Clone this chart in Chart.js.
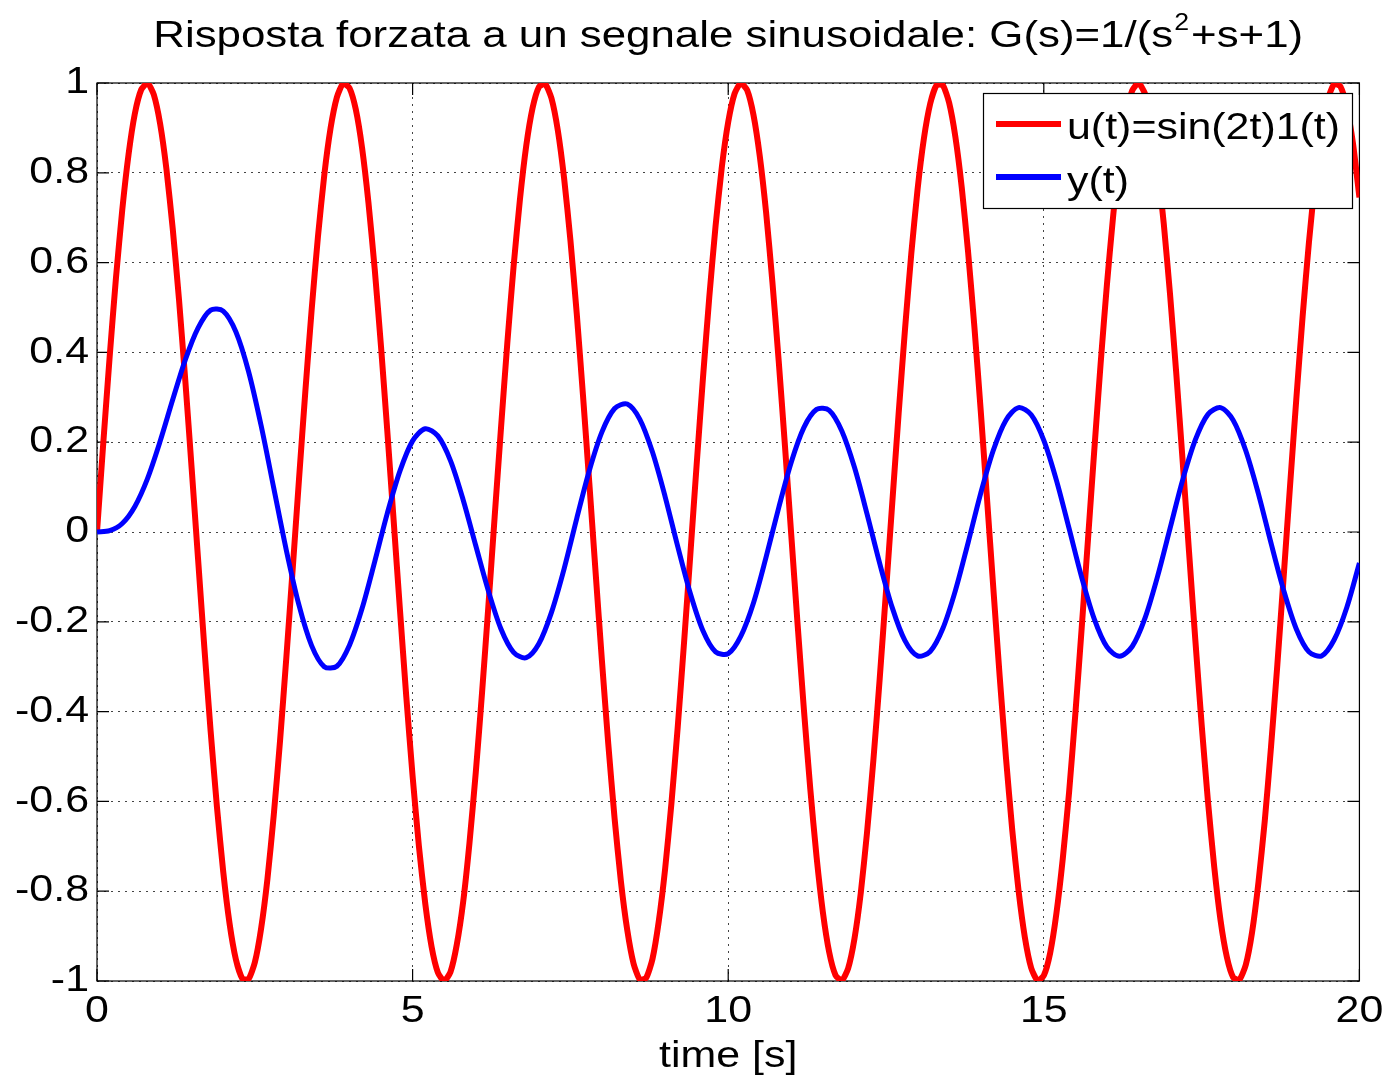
<!DOCTYPE html>
<html><head><meta charset="utf-8">
<script src="https://cdn.jsdelivr.net/npm/chart.js@4"></script>
<style>html,body{margin:0;padding:0;background:#fff;}canvas{display:block}</style>
</head><body>
<canvas id="c" width="1389" height="1081"></canvas>
<script>
const titleMain = 'Risposta forzata a un segnale sinusoidale: G(s)=1/(s';
const titleSup = '2';
const titleEnd = '+s+1)';
const xAxisTitle = 'time [s]';
const seriesLabels = ['u(t)=sin(2t)1(t)', 'y(t)'];
const seriesColors = ['#ff0000', '#0000ff'];

// time samples of u(t) (s)
const uTimes = [
 0,0.1,0.2,0.3,0.4,0.5,0.6,0.7,0.8,0.9,
 1,1.1,1.2,1.3,1.4,1.5,1.6,1.7,1.8,1.9,
 2,2.1,2.2,2.3,2.4,2.5,2.6,2.7,2.8,2.9,
 3,3.1,3.2,3.3,3.4,3.5,3.6,3.7,3.8,3.9,
 4,4.1,4.2,4.3,4.4,4.5,4.6,4.7,4.8,4.9,
 5,5.1,5.2,5.3,5.4,5.5,5.6,5.7,5.8,5.9,
 6,6.1,6.2,6.3,6.4,6.5,6.6,6.7,6.8,6.9,
 7,7.1,7.2,7.3,7.4,7.5,7.6,7.7,7.8,7.9,
 8,8.1,8.2,8.3,8.4,8.5,8.6,8.7,8.8,8.9,
 9,9.1,9.2,9.3,9.4,9.5,9.6,9.7,9.8,9.9,
 10,10.1,10.2,10.3,10.4,10.5,10.6,10.7,10.8,10.9,
 11,11.1,11.2,11.3,11.4,11.5,11.6,11.7,11.8,11.9,
 12,12.1,12.2,12.3,12.4,12.5,12.6,12.7,12.8,12.9,
 13,13.1,13.2,13.3,13.4,13.5,13.6,13.7,13.8,13.9,
 14,14.1,14.2,14.3,14.4,14.5,14.6,14.7,14.8,14.9,
 15,15.1,15.2,15.3,15.4,15.5,15.6,15.7,15.8,15.9,
 16,16.1,16.2,16.3,16.4,16.5,16.6,16.7,16.8,16.9,
 17,17.1,17.2,17.3,17.4,17.5,17.6,17.7,17.8,17.9,
 18,18.1,18.2,18.3,18.4,18.5,18.6,18.7,18.8,18.9,
 19,19.1,19.2,19.3,19.4,19.5,19.6,19.7,19.8,19.9,
 20];

// u(t)
const uValues = [
 0,0.199,0.389,0.565,0.717,0.841,0.932,0.985,1.000,0.974,
 0.909,0.808,0.675,0.516,0.335,0.141,-0.058,-0.256,-0.443,-0.612,
 -0.757,-0.872,-0.952,-0.994,-0.996,-0.959,-0.883,-0.773,-0.631,-0.465,
 -0.279,-0.083,0.117,0.312,0.494,0.657,0.794,0.899,0.968,0.999,
 0.989,0.941,0.855,0.734,0.585,0.412,0.223,0.025,-0.174,-0.367,
 -0.544,-0.700,-0.827,-0.923,-0.981,-1.000,-0.980,-0.919,-0.825,-0.694,
 -0.537,-0.358,-0.166,0.034,0.231,0.420,0.592,0.740,0.860,0.944,
 0.991,0.998,0.966,0.895,0.788,0.650,0.487,0.303,0.108,-0.092,
 -0.288,-0.472,-0.638,-0.778,-0.886,-0.961,-0.997,-0.993,-0.951,-0.867,
 -0.751,-0.605,-0.435,-0.247,-0.050,0.150,0.343,0.523,0.682,0.814,
 0.913,0.976,1.000,0.984,0.929,0.837,0.712,0.557,0.381,0.190,
 -0.009,-0.207,-0.397,-0.572,-0.724,-0.847,-0.936,-0.987,-0.999,-0.972,
 -0.906,-0.804,-0.668,-0.508,-0.327,-0.132,0.067,0.264,0.450,0.619,
 0.763,0.876,0.954,0.995,0.995,0.956,0.879,0.767,0.624,0.457,
 0.271,0.074,-0.125,-0.320,-0.502,-0.664,-0.799,-0.903,-0.971,-0.999,
 -0.988,-0.938,-0.849,-0.728,-0.580,-0.404,-0.214,-0.016,0.183,0.375,
 0.551,0.706,0.833,0.926,0.983,1.000,0.977,0.916,0.818,0.687,
 0.529,0.350,0.157,-0.043,-0.240,-0.428,-0.599,-0.746,-0.865,-0.947,
 -0.992,-0.997,-0.964,-0.891,-0.781,-0.644,-0.478,-0.295,-0.099,0.101,
 0.296,0.480,0.645,0.784,0.892,0.964,0.998,0.992,0.946,0.863,
 0.745];

// time samples of y(t) (s)
const yTimes = [
 0,0.2,0.4,0.6,0.8,1,1.2,1.4,1.6,1.8,
 2,2.2,2.4,2.6,2.8,3,3.2,3.4,3.6,3.8,
 4,4.2,4.4,4.6,4.8,5,5.2,5.4,5.6,5.8,
 6,6.2,6.4,6.6,6.8,7,7.2,7.4,7.6,7.8,
 8,8.2,8.4,8.6,8.8,9,9.2,9.4,9.6,9.8,
 10,10.2,10.4,10.6,10.8,11,11.2,11.4,11.6,11.8,
 12,12.2,12.4,12.6,12.8,13,13.2,13.4,13.6,13.8,
 14,14.2,14.4,14.6,14.8,15,15.2,15.4,15.6,15.8,
 16,16.2,16.4,16.6,16.8,17,17.2,17.4,17.6,17.8,
 18,18.2,18.4,18.6,18.8,19,19.2,19.4,19.6,19.8,
 20];

// y(t)
const yValues = [
 0.000,0.003,0.019,0.057,0.119,0.202,0.295,0.384,0.454,0.494,
 0.492,0.446,0.358,0.237,0.098,-0.041,-0.163,-0.253,-0.300,-0.299,
 -0.252,-0.170,-0.066,0.042,0.136,0.203,0.230,0.214,0.159,0.072,
 -0.030,-0.131,-0.216,-0.268,-0.280,-0.249,-0.179,-0.082,0.030,0.137,
 0.223,0.275,0.285,0.251,0.178,0.079,-0.032,-0.137,-0.220,-0.267,
 -0.271,-0.232,-0.158,-0.056,0.054,0.156,0.233,0.273,0.271,0.225,
 0.144,0.040,-0.070,-0.169,-0.242,-0.276,-0.266,-0.215,-0.130,-0.024,
 0.086,0.182,0.249,0.277,0.261,0.204,0.115,0.008,-0.101,-0.194,
 -0.256,-0.277,-0.255,-0.193,-0.100,0.008,0.116,0.205,0.262,0.277,
 0.249,0.181,0.085,-0.025,-0.130,-0.216,-0.267,-0.276,-0.240,-0.168,
 -0.069];

const xTicks = [0, 5, 10, 15, 20];
const xTickLabels = ['0', '5', '10', '15', '20'];
const yTicks = [-1, -0.8, -0.6, -0.4, -0.2, 0, 0.2, 0.4, 0.6, 0.8, 1];
const yTickLabels = ['-1', '-0.8', '-0.6', '-0.4', '-0.2', '0', '0.2', '0.4', '0.6', '0.8', '1'];

const FONT = "'Liberation Sans', Arial, Helvetica, sans-serif";
const TEXT_STRETCH = 1.16; // the reference glyphs are drawn horizontally widened

const canvas = document.getElementById('c');
const ctx2d = canvas.getContext('2d');
ctx2d.fillText = function (text, x, y, maxWidth) {
  const proto = Object.getPrototypeOf(this);
  this.save();
  this.translate(x, y);
  this.scale(TEXT_STRETCH, 1);
  if (maxWidth === undefined || maxWidth === null) proto.fillText.call(this, text, 0, 0);
  else proto.fillText.call(this, text, 0, 0, maxWidth / TEXT_STRETCH);
  this.restore();
};

const framePlugin = {
  id: 'matlabFrame',
  beforeDatasetsDraw(chart) {
    const {ctx, chartArea: a, scales: {x, y}} = chart;
    ctx.save();
    ctx.strokeStyle = '#000';
    ctx.lineWidth = 1.2;
    ctx.setLineDash([]);
    ctx.strokeRect(a.left, a.top, a.right - a.left, a.bottom - a.top);
    const L = 12;
    ctx.beginPath();
    x.ticks.forEach(t => {
      const px = x.getPixelForValue(t.value);
      ctx.moveTo(px, a.bottom); ctx.lineTo(px, a.bottom - L);
      ctx.moveTo(px, a.top); ctx.lineTo(px, a.top + L);
    });
    y.ticks.forEach(t => {
      const py = y.getPixelForValue(t.value);
      ctx.moveTo(a.left, py); ctx.lineTo(a.left + L, py);
      ctx.moveTo(a.right, py); ctx.lineTo(a.right - L, py);
    });
    ctx.stroke();
    ctx.restore();
  },
  afterDraw(chart) {
    const {ctx, chartArea: a} = chart;
    ctx.save();
    // title with superscript
    const mainFont = '37.8px ' + FONT, supFont = '23px ' + FONT;
    ctx.font = mainFont;
    const w1 = ctx.measureText(titleMain).width * TEXT_STRETCH;
    const w3 = ctx.measureText(titleEnd).width * TEXT_STRETCH;
    ctx.font = supFont;
    const w2 = ctx.measureText(titleSup).width * TEXT_STRETCH;
    let tx = (a.left + a.right) / 2 - (w1 + w2 + w3 + 3) / 2;
    ctx.fillStyle = '#000';
    ctx.textAlign = 'left';
    ctx.textBaseline = 'alphabetic';
    ctx.font = mainFont;
    ctx.fillText(titleMain, tx, 47);
    tx += w1;
    ctx.font = supFont;
    ctx.fillText(titleSup, tx + 1, 30);
    tx += w2 + 3;
    ctx.font = mainFont;
    ctx.fillText(titleEnd, tx, 47);

    // legend
    const bx = 983.5, by = 93.5, bw = 369, bh = 115;
    ctx.fillStyle = '#fff';
    ctx.fillRect(bx, by, bw, bh);
    ctx.strokeStyle = '#000';
    ctx.lineWidth = 1.2;
    ctx.strokeRect(bx, by, bw, bh);
    const rows = [124, 177];
    const baselines = [139, 193];
    chart.data.datasets.forEach((ds, i) => {
      ctx.strokeStyle = ds.borderColor;
      ctx.lineWidth = 6;
      ctx.beginPath();
      ctx.moveTo(996, rows[i]); ctx.lineTo(1061, rows[i]);
      ctx.stroke();
      ctx.fillStyle = '#000';
      ctx.font = '37px ' + FONT;
      ctx.textBaseline = 'alphabetic';
      ctx.textAlign = 'left';
      ctx.fillText(ds.label, 1067, baselines[i]);
    });
    ctx.restore();
  }
};

new Chart(ctx2d, {
  type: 'line',
  data: {
    datasets: [
      { label: seriesLabels[0], data: uTimes.map((t, i) => ({x: t, y: uValues[i]})),
        borderColor: seriesColors[0], borderWidth: 6, pointRadius: 0, tension: 0.2, order: 1, clip: 0 },
      { label: seriesLabels[1], data: yTimes.map((t, i) => ({x: t, y: yValues[i]})),
        borderColor: seriesColors[1], borderWidth: 5, pointRadius: 0, tension: 0.3, order: 0, clip: 0 }
    ]
  },
  options: {
    responsive: false,
    animation: false,
    devicePixelRatio: 1,
    layout: { padding: { left: 0, right: 27, top: 83, bottom: 0 } },
    plugins: {
      legend: { display: false },
      tooltip: { enabled: false },
      title: { display: false }
    },
    scales: {
      x: {
        type: 'linear', min: 0, max: 20,
        afterBuildTicks: s => { s.ticks = xTicks.map(v => ({value: v})); },
        afterFit: s => { s.height = 100; },
        ticks: { color: '#000', font: { family: FONT, size: 37 }, padding: 9, maxRotation: 0, autoSkip: false,
                 callback: (v, i) => xTickLabels[i] },
        grid: { color: '#444', lineWidth: 1, drawTicks: false },
        border: { display: false, dash: [2, 5] },
        title: { display: true, text: xAxisTitle, color: '#000', font: { family: FONT, size: 37 }, padding: { top: 0, bottom: 2 } }
      },
      y: {
        type: 'linear', min: -1, max: 1,
        afterBuildTicks: s => { s.ticks = yTicks.map(v => ({value: v})); },
        afterFit: s => { s.width = 97; },
        ticks: { color: '#000', font: { family: FONT, size: 37 }, padding: 8, autoSkip: false,
                 callback: (v, i) => yTickLabels[i] },
        grid: { color: '#444', lineWidth: 1, drawTicks: false },
        border: { display: false, dash: [2, 5] }
      }
    }
  },
  plugins: [framePlugin]
});
</script>
</body></html>
